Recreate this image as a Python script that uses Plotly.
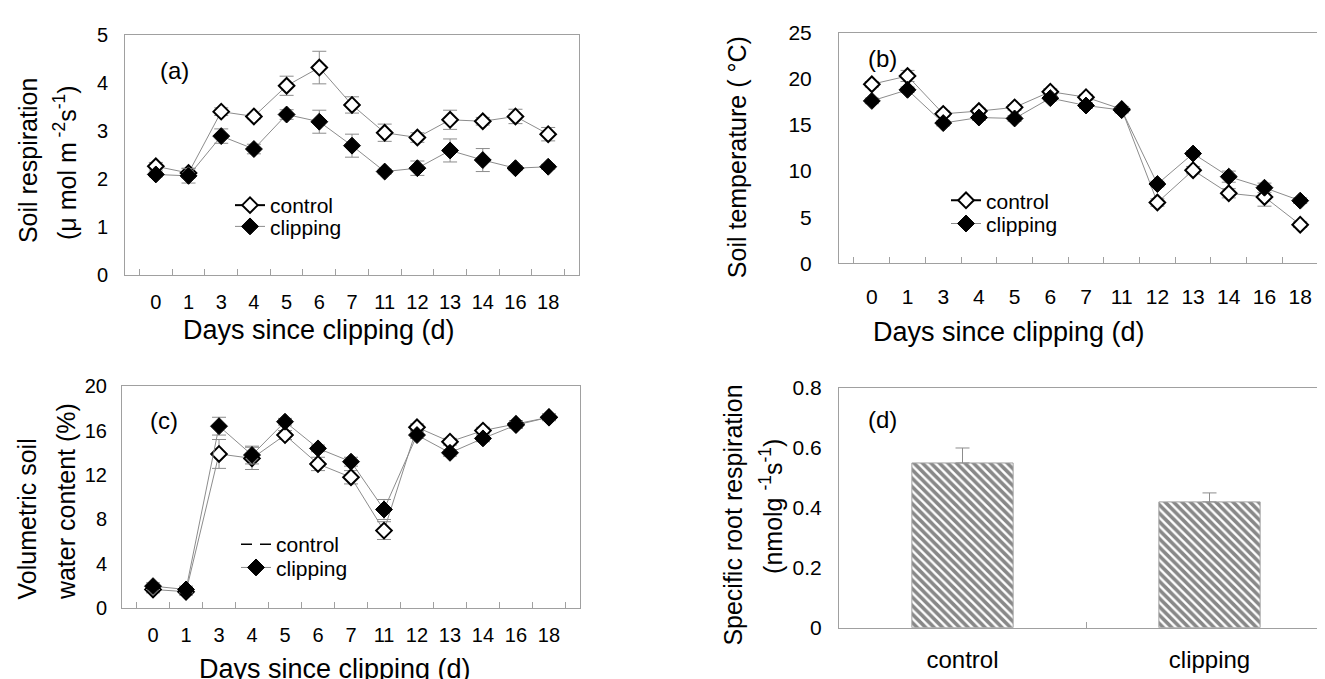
import plotly.graph_objects as go

# ---------------- data ----------------
days = ["0", "1", "3", "4", "5", "6", "7", "11", "12", "13", "14", "16", "18"]

resp_control = [2.27, 2.13, 3.41, 3.31, 3.95, 4.33, 3.55, 2.97, 2.87, 3.24, 3.21, 3.31, 2.94]
resp_control_err = [0.08, 0.10, 0.08, 0.05, 0.20, 0.34, 0.17, 0.18, 0.10, 0.20, 0.08, 0.15, 0.14]
resp_clipping = [2.10, 2.07, 2.90, 2.63, 3.35, 3.20, 2.70, 2.16, 2.23, 2.60, 2.40, 2.23, 2.26]
resp_clipping_err = [0.05, 0.15, 0.15, 0.10, 0.10, 0.24, 0.24, 0.05, 0.15, 0.24, 0.24, 0.05, 0.05]

temp_control = [19.4, 20.3, 16.2, 16.5, 16.9, 18.6, 18.0, 16.7, 6.6, 10.1, 7.6, 7.2, 4.2]
temp_control_err = [0.3, 0.6, 0.3, 0.3, 0.3, 0.3, 0.3, 0.3, 0.4, 0.4, 0.5, 1.0, 0.3]
temp_clipping = [17.6, 18.8, 15.2, 15.8, 15.7, 17.9, 17.1, 16.6, 8.6, 11.9, 9.4, 8.2, 6.8]
temp_clipping_err = [0.3, 0.3, 0.3, 0.3, 0.3, 0.3, 0.3, 0.3, 0.3, 0.3, 0.6, 0.5, 0.3]

swc_control = [1.7, 1.5, 13.9, 13.5, 15.6, 13.0, 11.8, 7.0, 16.3, 15.0, 16.0, 16.6, 17.2]
swc_control_err = [0.3, 0.3, 1.3, 1.0, 0.4, 0.6, 0.6, 0.8, 0.3, 0.3, 0.3, 0.3, 0.3]
swc_clipping = [2.0, 1.7, 16.4, 13.8, 16.8, 14.4, 13.2, 8.9, 15.6, 14.0, 15.3, 16.5, 17.2]
swc_clipping_err = [0.3, 0.3, 0.8, 0.8, 0.3, 0.3, 0.4, 0.9, 0.3, 0.3, 0.3, 0.3, 0.3]

root_groups = ["control", "clipping"]
root_values = [0.55, 0.42]
root_err = [0.05, 0.03]

# ---------------- layout helpers ----------------
W, H = 1325, 679
FONT = "Liberation Sans, Arial, sans-serif"
GRAY = "#8c8c8c"
AXIS = "#a0a0a0"


def fx(px):
    return px / W


def fy(py):
    return 1 - py / H


fig = go.Figure()


def add_series(xa, ya, yc, ec, yk, ek):
    fig.add_trace(go.Scatter(
        x=days, y=yc, xaxis=xa, yaxis=ya, mode="lines+markers", showlegend=False,
        line=dict(color=GRAY, width=1),
        marker=dict(symbol="diamond", size=12, color="white", line=dict(color="black", width=2)),
        error_y=dict(type="data", array=ec, color=GRAY, thickness=1, width=7),
    ))
    fig.add_trace(go.Scatter(
        x=days, y=yk, xaxis=xa, yaxis=ya, mode="lines+markers", showlegend=False,
        line=dict(color=GRAY, width=1),
        marker=dict(symbol="diamond", size=13, color="black", line=dict(color="black", width=1)),
        error_y=dict(type="data", array=ek, color=GRAY, thickness=1, width=7),
    ))


add_series("x", "y", resp_control, resp_control_err, resp_clipping, resp_clipping_err)
add_series("x2", "y2", temp_control, temp_control_err, temp_clipping, temp_clipping_err)
add_series("x3", "y3", swc_control, swc_control_err, swc_clipping, swc_clipping_err)

fig.add_trace(go.Bar(
    x=root_groups, y=root_values, xaxis="x4", yaxis="y4", showlegend=False,
    width=0.41,
    marker=dict(color="white", line=dict(color=AXIS, width=1),
                pattern=dict(shape="\\", fgcolor="#111111", bgcolor="white", size=6, solidity=0.6)),
    error_y=dict(type="data", symmetric=False, array=root_err, arrayminus=[0, 0],
                 color=GRAY, thickness=1, width=7),
))

# ---------------- legend entries ----------------
def legend_entry(name, legend, xa, ya, open_marker, line_color, line_width, dash="solid", mode="lines+markers"):
    if open_marker:
        mk = dict(symbol="diamond", size=12, color="white", line=dict(color="black", width=2))
    else:
        mk = dict(symbol="diamond", size=13, color="black", line=dict(color="black", width=1))
    fig.add_trace(go.Scatter(
        x=[None], y=[None], xaxis=xa, yaxis=ya, mode=mode, name=name, legend=legend,
        showlegend=True, line=dict(color=line_color, width=line_width, dash=dash), marker=mk,
    ))


legend_entry("control", "legend", "x", "y", True, "black", 2)
legend_entry("clipping", "legend2", "x", "y", False, GRAY, 1)
legend_entry("control", "legend3", "x2", "y2", True, "black", 2)
legend_entry("clipping", "legend4", "x2", "y2", False, GRAY, 1)
legend_entry("control", "legend5", "x3", "y3", True, "black", 1.5, dash="11px,8px", mode="lines")
legend_entry("clipping", "legend6", "x3", "y3", False, GRAY, 1)


def leg(xpx, ypx, size):
    return dict(x=fx(xpx), y=fy(ypx), xanchor="left", yanchor="middle",
                bgcolor="rgba(0,0,0,0)", borderwidth=0,
                font=dict(family=FONT, size=size, color="black"))


# ---------------- axes ----------------
def xax(d0, d1, anchor, size, standoff):
    return dict(domain=[fx(d0), fx(d1)], anchor=anchor, type="category",
                showline=True, linecolor=AXIS, linewidth=1, mirror=True,
                ticks="inside", tickson="boundaries", ticklen=6, tickcolor=AXIS,
                showgrid=False, zeroline=False, fixedrange=True,
                tickfont=dict(family=FONT, size=size, color="black"),
                ticklabelstandoff=standoff)


def yax(d_top, d_bot, anchor, rng, vals, texts, size, standoff, mirror):
    return dict(domain=[fy(d_bot), fy(d_top)], anchor=anchor, range=rng,
                tickvals=vals, ticktext=texts,
                showline=True, linecolor=AXIS, linewidth=1, mirror=mirror,
                ticks="", showgrid=False, zeroline=False, fixedrange=True,
                tickfont=dict(family=FONT, size=size, color="black"),
                ticklabelstandoff=standoff)


ann = []


def text(s, xpx, ypx, size, angle=0):
    ann.append(dict(text=s, x=fx(xpx), y=fy(ypx), xref="paper", yref="paper",
                    xanchor="center", yanchor="middle", showarrow=False, textangle=angle,
                    font=dict(family=FONT, size=size, color="black")))


# panel labels
text("(a)", 166, 52, 24)
text("(b)", 874, 40, 24)
text("(c)", 156, 415, 24)
text("(d)", 874, 413, 24)

# x titles
text("Days since clipping (d)", 311, 321, 27)
text("Days since clipping (d)", 1001, 323, 27)
text("Days since clipping (d)", 327, 672, 27)

# y titles
text("Soil respiration", 20, 146, 25, -90)
text("(μ mol m<sup> -2</sup>s<sup>-1</sup>)", 57, 148, 25, -90)
text("Soil temperature ( °C)", 729, 142, 25, -90)
text("Volumetric soil", 19, 517, 25, -90)
text("water content (%)", 58, 499, 25, -90)
text("Specific root respiration", 725, 513, 25, -90)
text("(nmolg <sup>-1</sup>s<sup>-1</sup>)", 763, 504, 25, -90)

fig.update_layout(
    width=W, height=H, margin=dict(l=0, r=0, t=0, b=0),
    paper_bgcolor="white", plot_bgcolor="white",
    font=dict(family=FONT, color="black"),
    xaxis=xax(117, 571, "y", 20, 9),
    yaxis=yax(16, 264, "x", [0, 5], [0, 1, 2, 3, 4, 5], ["0", "1", "2", "3", "4", "5"], 20, 12, True),
    xaxis2=xax(831, 1325, "y2", 21, 14),
    yaxis2=yax(13, 252, "x2", [0, 25], [0, 5, 10, 15, 20, 25], ["0", "5", "10", "15", "20", "25"], 21, 22, False),
    xaxis3=xax(114, 572, "y3", 20, 9),
    yaxis3=yax(379, 609, "x3", [0, 20], [0, 4, 8, 12, 16, 20], ["0", "4", "8", "12", "16", "20"], 20, 10, True),
    xaxis4=xax(831, 1325, "y4", 24, 11),
    yaxis4=yax(381, 629, "x4", [0, 0.8], [0, 0.2, 0.4, 0.6, 0.8], ["0", "0.2", "0.4", "0.6", "0.8"], 21, 12, False),
    legend=leg(222, 192, 21),
    legend2=leg(222, 214, 21),
    legend3=leg(938, 187, 21),
    legend4=leg(938, 211, 21),
    legend5=leg(228, 543, 21),
    legend6=leg(228, 567, 21),
    annotations=ann,
    bargap=0.59,
)

fig.write_html("out.html")
